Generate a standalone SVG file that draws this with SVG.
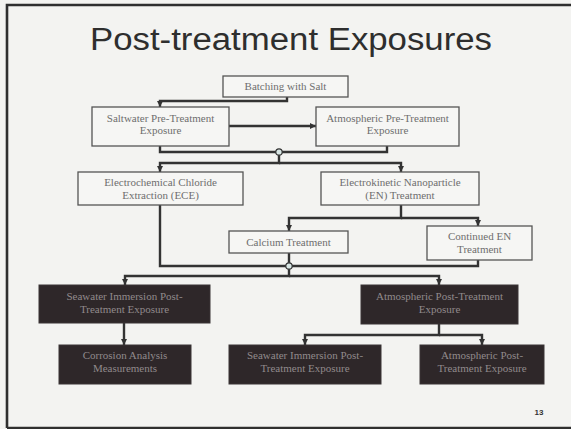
<svg xmlns="http://www.w3.org/2000/svg" width="571" height="429" viewBox="0 0 571 429">
<defs>
<style>
.bg{fill:#f3f3f1}
.frame{fill:none;stroke:#2f2f2f;stroke-width:2.6}
.title{font-family:"Liberation Sans",Arial,sans-serif;font-size:31px;fill:#2e2e2e}
.box{fill:#f6f6f4;stroke:#555;stroke-width:1.3}
.dbox{fill:#2e2729;stroke:#3a3436;stroke-width:1}
.t{font-family:"Liberation Serif","Times New Roman",serif;font-size:11px;fill:#6e6e6e;text-anchor:middle}
.dt{font-family:"Liberation Serif","Times New Roman",serif;font-size:11px;fill:#918a8c;text-anchor:middle}
.c{fill:none;stroke:#333;stroke-width:2.4}
.j{fill:#d8e6e4;stroke:#333;stroke-width:1.2}
.pg{font-family:"Liberation Sans",Arial,sans-serif;font-size:8px;font-weight:bold;fill:#333;text-anchor:middle}
</style>
<marker id="ah" markerUnits="userSpaceOnUse" markerWidth="6" markerHeight="6" viewBox="0 0 6 6" refX="6" refY="3" orient="auto">
<path d="M0,0 L6,3 L0,6 Z" fill="#333"/>
</marker>
</defs>
<rect class="bg" x="0" y="0" width="571" height="429"/>
<path class="frame" d="M7,428 V5 H571 M7,428 H571"/>
<text class="title" x="90" y="50" textLength="402" lengthAdjust="spacingAndGlyphs">Post-treatment Exposures</text>

<g id="connectors">
<path class="c" d="M287,97 V101 H160 V107" marker-end="url(#ah)"/>
<path class="c" d="M229,126 H316" marker-end="url(#ah)"/>
<path class="c" d="M160,146 V152 H387 V146"/>
<path class="c" d="M279,155 V163 H160 V172" marker-end="url(#ah)"/>
<path class="c" d="M279,163 H401 V172" marker-end="url(#ah)"/>
<path class="c" d="M160,205 V266 H286"/>
<path class="c" d="M401,205 V218 H289 V231" marker-end="url(#ah)"/>
<path class="c" d="M401,218 H478 V226" marker-end="url(#ah)"/>
<path class="c" d="M289,253 V263"/>
<path class="c" d="M478,260 V266 H292"/>
<path class="c" d="M289,269 V276 H125 V285" marker-end="url(#ah)"/>
<path class="c" d="M289,276 H439 V285" marker-end="url(#ah)"/>
<path class="c" d="M124,323 V345" marker-end="url(#ah)"/>
<path class="c" d="M439,324 V335 H305 V345" marker-end="url(#ah)"/>
<path class="c" d="M439,335 H482 V345" marker-end="url(#ah)"/>
<circle class="j" cx="279" cy="152" r="3.2"/>
<circle class="j" cx="289" cy="266" r="3.2"/>
</g>

<g id="batching">
<rect class="box" x="223" y="76" width="125" height="21"/>
<text class="t" x="285.5" y="90">Batching with Salt</text>
</g>
<g id="saltwater-pre">
<rect class="box" x="92" y="107" width="137" height="39"/>
<text class="t" x="160.5" y="122">Saltwater Pre-Treatment</text>
<text class="t" x="160.5" y="134">Exposure</text>
</g>
<g id="atmospheric-pre">
<rect class="box" x="316" y="107" width="143" height="39"/>
<text class="t" x="387.5" y="122">Atmospheric Pre-Treatment</text>
<text class="t" x="387.5" y="134">Exposure</text>
</g>
<g id="ece">
<rect class="box" x="78" y="172" width="165" height="33"/>
<text class="t" x="160.5" y="186">Electrochemical Chloride</text>
<text class="t" x="160.5" y="199">Extraction (ECE)</text>
</g>
<g id="en">
<rect class="box" x="321" y="172" width="158" height="33"/>
<text class="t" x="400" y="186">Electrokinetic Nanoparticle</text>
<text class="t" x="400" y="199">(EN) Treatment</text>
</g>
<g id="calcium">
<rect class="box" x="229" y="231" width="119" height="22"/>
<text class="t" x="288.5" y="246">Calcium Treatment</text>
</g>
<g id="continued-en">
<rect class="box" x="427" y="226" width="105" height="34"/>
<text class="t" x="479.5" y="240">Continued EN</text>
<text class="t" x="479.5" y="253">Treatment</text>
</g>
<g id="seawater-post-1">
<rect class="dbox" x="39" y="285" width="171" height="38"/>
<text class="dt" x="124.5" y="300">Seawater Immersion Post-</text>
<text class="dt" x="124.5" y="313">Treatment Exposure</text>
</g>
<g id="atmospheric-post-1">
<rect class="dbox" x="361" y="285" width="157" height="39"/>
<text class="dt" x="439.5" y="300">Atmospheric Post-Treatment</text>
<text class="dt" x="439.5" y="313">Exposure</text>
</g>
<g id="corrosion">
<rect class="dbox" x="59" y="345" width="132" height="39"/>
<text class="dt" x="125" y="359">Corrosion Analysis</text>
<text class="dt" x="125" y="372">Measurements</text>
</g>
<g id="seawater-post-2">
<rect class="dbox" x="229" y="345" width="152" height="39"/>
<text class="dt" x="305" y="359">Seawater Immersion Post-</text>
<text class="dt" x="305" y="372">Treatment Exposure</text>
</g>
<g id="atmospheric-post-2">
<rect class="dbox" x="420" y="345" width="124" height="39"/>
<text class="dt" x="482" y="359">Atmospheric Post-</text>
<text class="dt" x="482" y="372">Treatment Exposure</text>
</g>
<text class="pg" x="539" y="415">13</text>
</svg>
